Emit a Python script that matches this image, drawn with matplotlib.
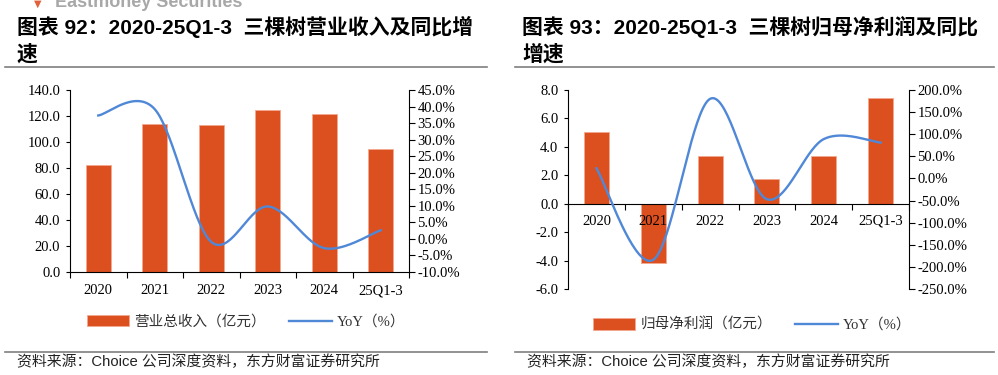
import numpy as np
import matplotlib
matplotlib.use("Agg")
import matplotlib.pyplot as plt
from matplotlib.patches import Patch
from matplotlib.lines import Line2D
from matplotlib.ticker import FuncFormatter, MultipleLocator, FixedLocator

# 数据
categories = ["2020", "2021", "2022", "2023", "2024", "25Q1-3"]
revenue = [82.0, 114.2, 113.4, 124.9, 121.2, 94.4]          # 营业总收入（亿元）
revenue_yoy = [37.3, 39.2, -0.9, 9.8, -2.8, 2.6]           # %
profit = [5.03, -4.20, 3.35, 1.75, 3.35, 7.46]             # 归母净利润（亿元）
profit_yoy = [23.0, -184.0, 180.0, -47.0, 89.0, 81.0]      # %

BAR = "#DC4F1F"
LINE = "#5088D8"
SERIF = ["Liberation Serif", "Noto Sans CJK SC"]
SANS = ["Liberation Sans", "Noto Sans CJK SC"]


def smooth(y, n=40):
    # Excel 平滑线：Catmull-Rom 控制点的三次贝塞尔
    x = np.arange(len(y), dtype=float)
    p = np.column_stack([x, np.asarray(y, dtype=float)])
    ext = np.vstack([p[0], p, p[-1]])
    xs, ys = [], []
    t = np.linspace(0, 1, n)[:, None]
    for i in range(len(p) - 1):
        p0, p3 = p[i], p[i + 1]
        c1 = p0 + (ext[i + 2] - ext[i]) / 6
        c2 = p3 - (ext[i + 3] - ext[i + 1]) / 6
        b = (1 - t) ** 3 * p0 + 3 * (1 - t) ** 2 * t * c1 + 3 * (1 - t) * t ** 2 * c2 + t ** 3 * p3
        xs.append(b[:, 0])
        ys.append(b[:, 1])
    return np.concatenate(xs), np.concatenate(ys)


fig = plt.figure(figsize=(9.98, 3.75), dpi=100)
H = 375.0


def fy(px):
    return 1 - px / H


def draw_panel(rect, bars, yoy, ylim, ystep, y2lim, y2step, zero_axis):
    ax = fig.add_axes(rect)
    x = np.arange(len(categories))
    ax.bar(x, bars, width=0.44, color=BAR, edgecolor="#F2A98E", linewidth=0.6, zorder=1)
    ax.set_axisbelow(False)
    ax.spines["top"].set_visible(False)
    ax.spines["right"].set_visible(False)
    if zero_axis:
        ax.spines["bottom"].set_position(("data", 0))
    for s in ("left", "bottom"):
        ax.spines[s].set_linewidth(0.8)
    ax.set_xlim(-0.5, len(categories) - 0.5)
    ax.set_ylim(*ylim)
    ax.yaxis.set_major_locator(MultipleLocator(ystep))
    ax.yaxis.set_major_formatter(FuncFormatter(lambda v, p: f"{v:.1f}"))
    ax.set_xticks(x)
    ax.set_xticklabels(categories, family=SERIF, fontsize=10.5)
    ax.xaxis.set_minor_locator(FixedLocator(np.arange(-0.5, len(categories), 1.0)))
    ax.tick_params(axis="x", which="major", length=0, pad=8 if zero_axis else 9)
    ax.tick_params(axis="x", which="minor", length=4, direction="out", width=0.8)
    ax.tick_params(axis="y", length=3, width=0.8, pad=4)
    for lab in ax.get_yticklabels():
        lab.set_family(SERIF)
        lab.set_fontsize(10.5)

    ax2 = ax.twinx()
    sx, sy = smooth(yoy)
    ax2.plot(sx, sy, color=LINE, linewidth=1.7, zorder=3)
    ax2.set_ylim(*y2lim)
    ax2.yaxis.set_major_locator(MultipleLocator(y2step))
    ax2.yaxis.set_major_formatter(FuncFormatter(lambda v, p: f"{v:.1f}%"))
    ax2.tick_params(axis="y", length=4, width=0.8, pad=2)
    for lab in ax2.get_yticklabels():
        lab.set_family(SERIF)
        lab.set_fontsize(10.5)
    for s in ("top", "left", "bottom"):
        ax2.spines[s].set_visible(False)
    ax2.spines["right"].set_linewidth(0.8)
    return ax


draw_panel([70 / 998, fy(272), 339 / 998, 182 / H], revenue, revenue_yoy,
           (0, 140), 20, (-10, 45), 5, False)
draw_panel([568 / 998, fy(289), 341 / 998, 199 / H], profit, profit_yoy,
           (-6, 8), 2, (-250, 200), 50, True)

# 标题
fig.text(38 / 998, fy(4), "▼", color="#E2603A", fontsize=7, ha="center", va="center",
         family=["DejaVu Sans"])
fig.text(55 / 998, fy(7), "Eastmoney Securities", color="#A8A8A8", fontsize=13,
         fontweight="bold", family=SANS, ha="left", va="baseline")
fig.text(17 / 998, fy(27), "图表 92：2020-25Q1-3  三棵树营业收入及同比增", fontsize=15,
         fontweight="bold", family=SANS, ha="left", va="center")
fig.text(17 / 998, fy(54), "速", fontsize=15, fontweight="bold", family=SANS,
         ha="left", va="center")
fig.text(522 / 998, fy(27), "图表 93：2020-25Q1-3  三棵树归母净利润及同比", fontsize=15,
         fontweight="bold", family=SANS, ha="left", va="center")
fig.text(522 / 998, fy(54), "增速", fontsize=15, fontweight="bold", family=SANS,
         ha="left", va="center")

# 分隔线
for x0, x1 in ((5, 487), (515, 994)):
    fig.add_artist(Line2D([x0 / 998, x1 / 998], [fy(67), fy(67)], color="#7F7F7F", linewidth=1.2))
    fig.add_artist(Line2D([x0 / 998, x1 / 998], [fy(352), fy(352)], color="#7F7F7F", linewidth=1.2))

# 图例
for cx, cy, name in ((246, 322, "营业总收入（亿元）"), (752, 325, "归母净利润（亿元）")):
    handles = [Patch(facecolor=BAR, edgecolor="#F2A98E", linewidth=0.6),
               Line2D([0], [0], color=LINE, linewidth=1.7)]
    leg = fig.legend(handles, [name, "YoY（%）"], loc="center", bbox_to_anchor=(cx / 998, fy(cy)),
                     ncol=2, frameon=False, handlelength=2.9, handleheight=0.8,
                     handletextpad=0.35, columnspacing=1.6,
                     prop={"family": SERIF, "size": 10.5})
    for t in leg.get_texts():
        t.set_color("#333333")

# 资料来源
src = "资料来源：Choice 公司深度资料，东方财富证券研究所"
fig.text(17 / 998, fy(362), src, fontsize=10.7, family=SANS, ha="left", va="center", color="#222222")
fig.text(527 / 998, fy(362), src, fontsize=10.7, family=SANS, ha="left", va="center", color="#222222")

fig.savefig("out.png", dpi=100)
